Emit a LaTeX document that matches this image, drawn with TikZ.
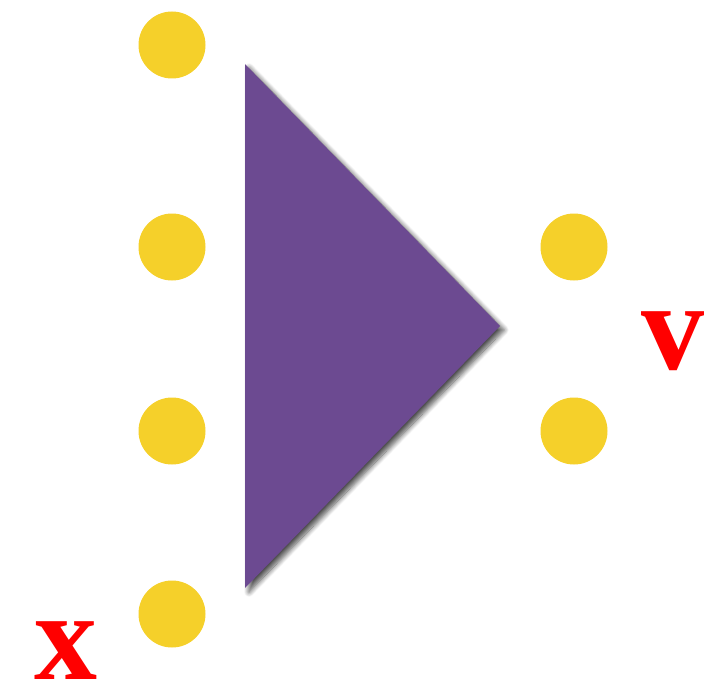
\documentclass[tikz,border=0pt]{standalone}
\usepackage{fontspec}
\setmainfont{Liberation Serif}
\usetikzlibrary{shadows.blur}
\definecolor{dotyellow}{RGB}{245,208,42}
\definecolor{tripurple}{RGB}{108,74,145}
\definecolor{labelred}{RGB}{255,0,0}
\tikzset{
  dot/.style={circle,fill=dotyellow,draw=none,minimum size=67pt,inner sep=0pt},
  lbl/.style={text=labelred,font=\fontsize{126}{126}\selectfont\bfseries,inner sep=0pt,anchor=base}
}
\begin{document}
\begin{tikzpicture}[x=1pt,y=-1pt]
\useasboundingbox (0,0) rectangle (708,687);
\node[dot] (l1) at (172,45) {};
\node[dot] (l2) at (172,247) {};
\node[dot] (l3) at (172,431) {};
\node[dot] (l4) at (172,614) {};
\node[dot] (r1) at (574,247) {};
\node[dot] (r2) at (574,431) {};
\fill[tripurple,blur shadow={shadow xshift=4pt,shadow yshift=-4pt,shadow blur radius=5pt,shadow blur steps=10,shadow opacity=70}]
  (245,64) -- (500,326) -- (245,588) -- cycle;
\node[lbl] (x) at (66,679) {x};
\node[lbl,anchor=base west] (v) at (641,369) {v};
\end{tikzpicture}
\end{document}
